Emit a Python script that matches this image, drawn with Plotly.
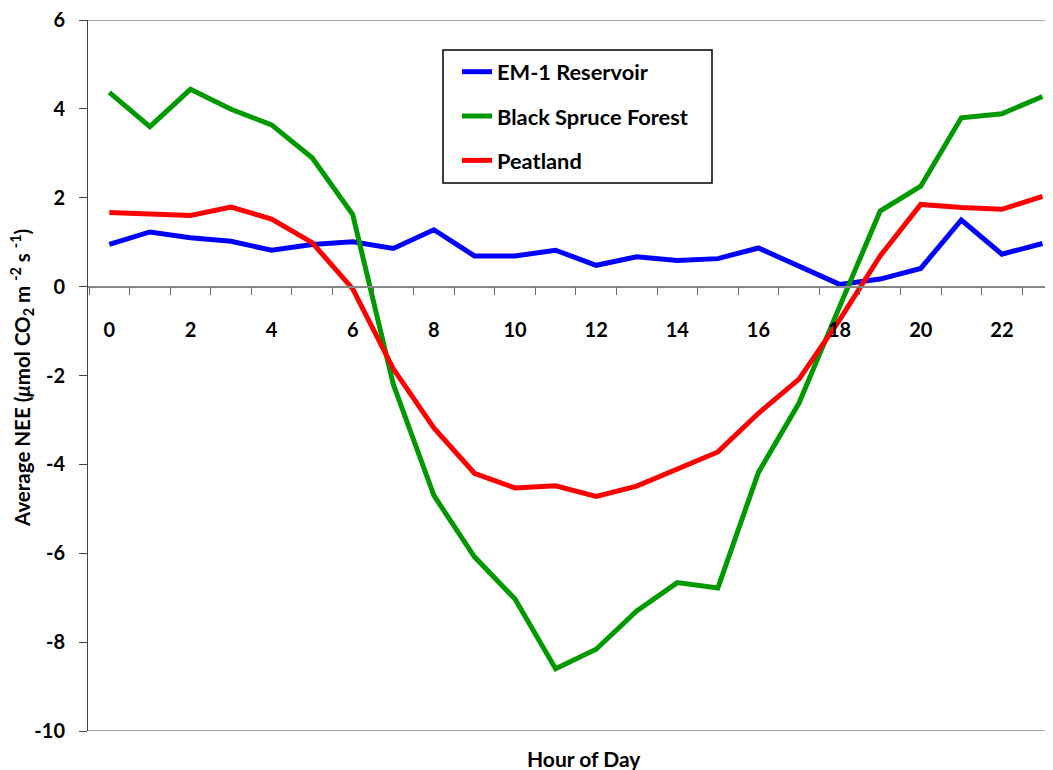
import plotly.graph_objects as go

hours = list(range(24))
x_tick_vals = [0, 2, 4, 6, 8, 10, 12, 14, 16, 18, 20, 22]
x_tick_text = [str(v) for v in x_tick_vals]
y_tick_vals = [6, 4, 2, 0, -2, -4, -6, -8, -10]
y_tick_text = ["6", "4", "2", "0", "-2", "-4", "-6", "-8", "-10"]

em1_reservoir = [0.95, 1.23, 1.10, 1.02, 0.82, 0.95, 1.01, 0.86, 1.28, 0.69, 0.69, 0.82,
                 0.48, 0.67, 0.59, 0.63, 0.87, 0.45, 0.05, 0.17, 0.41, 1.50, 0.73, 0.97]
black_spruce = [4.37, 3.60, 4.44, 3.99, 3.64, 2.90, 1.62, -2.20, -4.70, -6.08, -7.03, -8.60,
                -8.16, -7.30, -6.66, -6.78, -4.18, -2.62, -0.45, 1.70, 2.26, 3.80, 3.89, 4.28]
peatland = [1.67, 1.64, 1.60, 1.79, 1.52, 0.99, -0.05, -1.85, -3.18, -4.20, -4.53, -4.48,
            -4.72, -4.49, -4.11, -3.72, -2.85, -2.08, -0.75, 0.69, 1.85, 1.78, 1.74, 2.03]

series_names = ["EM-1 Reservoir", "Black Spruce Forest", "Peatland"]
series_values = [em1_reservoir, black_spruce, peatland]
series_colors = ["#0000FF", "#009900", "#FF0000"]

FONT = "Lato, 'Open Sans', sans-serif"

# page body has an 8px margin: figure is shifted by (8, 8)
W, H = 1045, 762
ML, MT, MB, MR = 80, 12, 39, 0
PW = W - ML - MR
PH = H - MT - MB
PLOT_LEFT, PLOT_TOP = 88, 20  # page pixels


def px_x(p):
    return (p - PLOT_LEFT) / PW


def px_y(p):
    return 1 - (p - PLOT_TOP) / PH


fig = go.Figure()
for i, (name, vals, col) in enumerate(zip(series_names, series_values, series_colors)):
    fig.add_trace(go.Scatter(
        x=hours, y=vals, mode="lines", name=name,
        line=dict(color=col, width=5),
        legendgroup=f"g{i}",
    ))

fig.update_layout(
    width=W, height=H,
    margin=dict(l=ML, r=MR, t=MT, b=MB, pad=0),
    paper_bgcolor="white", plot_bgcolor="white",
    font=dict(family=FONT, size=18, color="black"),
    showlegend=True,
    legend=dict(
        x=px_x(457), y=px_y(51), xanchor="left", yanchor="top",
        borderwidth=0, bgcolor="rgba(0,0,0,0)",
        font=dict(family=FONT, size=21.8, color="black", weight="bold"),
        tracegroupgap=13, traceorder="grouped",
    ),
    xaxis=dict(
        range=[-0.525, 23.26],
        tickvals=x_tick_vals, ticktext=x_tick_text,
        ticks="", showgrid=False, zeroline=False,
        showline=True, linecolor="#888888", linewidth=1.5,
        anchor="free", position=10 / 16,
        tickfont=dict(family=FONT, size=20, color="black", weight="bold"),
        ticklabelstandoff=26,
        minor=dict(ticks="outside", tick0=-0.5, dtick=1, ticklen=8,
                   tickcolor="#666666", tickwidth=1, showgrid=False),
    ),
    yaxis=dict(
        range=[-10, 6], domain=[0, 1],
        tickvals=y_tick_vals, ticktext=y_tick_text,
        ticks="outside", ticklen=8, tickcolor="#444444", tickwidth=1,
        showgrid=False, zeroline=False,
        showline=True, linecolor="#444444", linewidth=1,
        tickfont=dict(family=FONT, size=20, color="black", weight="bold"),
        ticklabelstandoff=10, ticklabeloverflow="allow",
    ),
)

# plot-area top/bottom border lines
for yv in (6, -10):
    fig.add_shape(type="line", xref="paper", yref="y", x0=0, x1=1, y0=yv, y1=yv,
                  line=dict(color="#888888", width=1.5), layer="below")

# legend frame
fig.add_shape(type="rect", xref="paper", yref="paper",
              x0=px_x(443), x1=px_x(712), y0=px_y(183), y1=px_y(50),
              line=dict(color="black", width=1.5), fillcolor="rgba(0,0,0,0)", layer="above")

fig.add_annotation(
    text="<b>Hour of Day</b>", xref="paper", yref="paper",
    x=px_x(584), y=px_y(758), xanchor="center", yanchor="middle",
    showarrow=False, font=dict(family=FONT, size=21, color="black", weight="bold"),
)
fig.add_annotation(
    text="<b>Average NEE (<i>\u03bc</i>mol CO<sub>2</sub> m <sup>-2</sup> s <sup>-1</sup>)</b>",
    xref="paper", yref="paper", x=px_x(22), y=px_y(378),
    xanchor="center", yanchor="middle", textangle=-90,
    showarrow=False, font=dict(family=FONT, size=20.5, color="black", weight="bold"),
)

fig.write_html("out.html")
